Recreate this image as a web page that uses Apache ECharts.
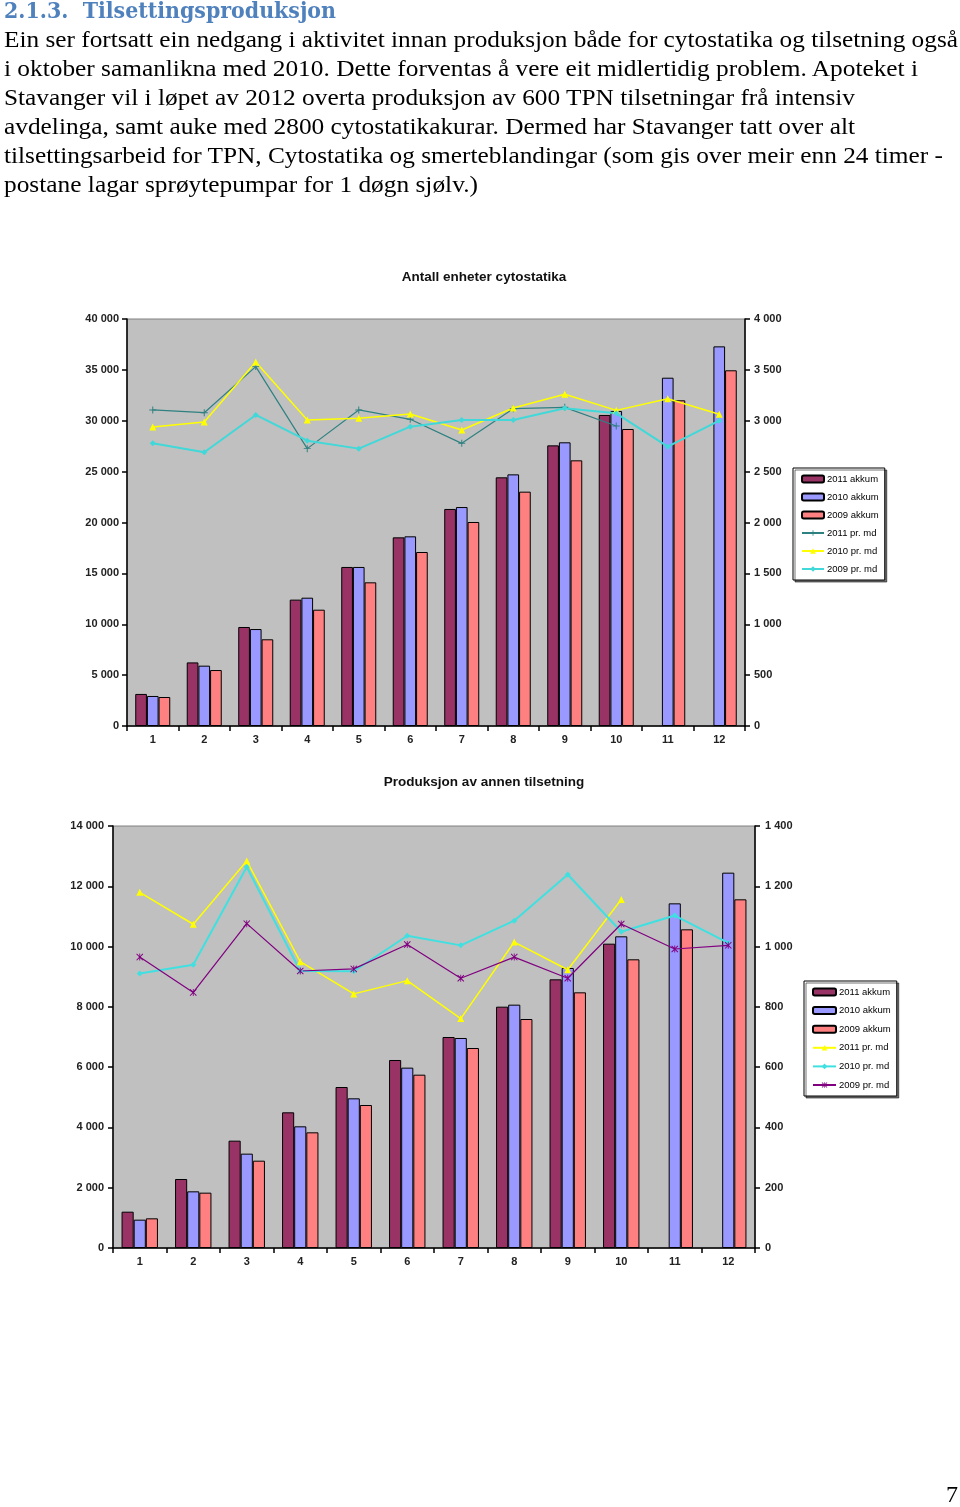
<!DOCTYPE html>
<html>
<head>
<meta charset="utf-8">
<script src="https://cdn.jsdelivr.net/npm/echarts/dist/echarts.min.js"></script>
<style>
  html, body { margin:0; padding:0; background:#fff; width:960px; height:1507px; overflow:hidden; }
  #chart { position:absolute; left:0; top:0; width:960px; height:1507px; }
  .ln { position:absolute; white-space:nowrap; transform-origin:0 0; display:inline-block; }
  .body { font-family:"Liberation Serif", "Times New Roman", serif; font-size:24px; line-height:29px; color:#000; }
  .head { font-family:"DejaVu Serif", serif; font-weight:bold; font-size:22px; line-height:23px; color:#4F81BD; }
</style>
</head>
<body>
<div id="chart"></div>
<div id="txt">
  <span class="ln head fit" data-w="332" style="left:4px;top:-1px">2.1.3.&nbsp; Tilsettingsproduksjon</span>
  <span class="ln body fit" data-w="954" style="left:4px;top:25px">Ein ser fortsatt ein nedgang i aktivitet innan produksjon både for cytostatika og tilsetning også</span>
  <span class="ln body fit" data-w="914" style="left:4px;top:54px">i oktober samanlikna med 2010. Dette forventas å vere eit midlertidig problem. Apoteket i</span>
  <span class="ln body fit" data-w="851" style="left:4px;top:83px">Stavanger vil i løpet av 2012 overta produksjon av 600 TPN tilsetningar frå intensiv</span>
  <span class="ln body fit" data-w="851" style="left:4px;top:112px">avdelinga, samt auke med 2800 cytostatikakurar. Dermed har Stavanger tatt over alt</span>
  <span class="ln body fit" data-w="939" style="left:4px;top:141px">tilsettingsarbeid for TPN, Cytostatika og smerteblandingar (som gis over meir enn 24 timer -</span>
  <span class="ln body fit" data-w="474" style="left:4px;top:170px">postane lagar sprøytepumpar for 1 døgn sjølv.)</span>
  <span class="ln body" style="left:946px;top:1480px">7</span>
</div>
<script>
// ---------- DATA ----------
const months = ['1','2','3','4','5','6','7','8','9','10','11','12'];

// Chart 1: Antall enheter cytostatika
const cyto2011Akkum = [3150, 6250, 9730, 12420, 15630, 18540, 21330, 24440, 27580, 30570];
const cyto2010Akkum = [2950, 5930, 9530, 12610, 15630, 18640, 21520, 24730, 27880, 30960, 34230, 37310];
const cyto2009Akkum = [2850, 5500, 8520, 11430, 14120, 17100, 20050, 23030, 26110, 29190, 32010, 34960];
const cyto2011Md = [3106, 3079, 3532, 2726, 3106, 3014, 2778, 3119, 3132, 2948];
const cyto2010Md = [2939, 2988, 3578, 3007, 3024, 3066, 2909, 3125, 3260, 3102, 3217, 3063];
const cyto2009Md = [2778, 2690, 3057, 2804, 2726, 2942, 3007, 3007, 3122, 3073, 2745, 3001];
const cytoLeftTicks = ['0','5 000','10 000','15 000','20 000','25 000','30 000','35 000','40 000'];
const cytoRightTicks = ['0','500','1 000','1 500','2 000','2 500','3 000','3 500','4 000'];

// Chart 2: Produksjon av annen tilsetning
const tils2011Akkum = [1205, 2289, 3561, 4501, 5341, 6237, 7000, 8006, 8913, 10096];
const tils2010Akkum = [940, 1880, 3130, 4036, 4965, 5983, 6967, 8073, 9289, 10340, 11434, 12452];
const tils2009Akkum = [984, 1836, 2897, 3837, 4744, 5750, 6635, 7597, 8482, 9577, 10572, 11567];
const tils2011Md = [1180, 1074, 1284, 950, 843, 887, 761, 1015, 923, 1156];
const tils2010Md = [911, 940, 1264, 919, 918, 1036, 1004, 1086, 1239, 1049, 1103, 1012];
const tils2009Md = [965, 848, 1076, 919, 926, 1007, 895, 965, 895, 1075, 992, 1004];
const tilsLeftTicks = ['0','2 000','4 000','6 000','8 000','10 000','12 000','14 000'];
const tilsRightTicks = ['0','200','400','600','800','1 000','1 200','1 400'];

// ---------- TEXT FIT ----------
document.querySelectorAll('.fit').forEach(el => {
  const w = el.getBoundingClientRect().width;
  el.style.transform = 'scaleX(' + (parseFloat(el.dataset.w) / w) + ')';
});

// ---------- CHART ----------
const FONT = '"Liberation Sans", Arial, sans-serif';
const C_2011 = '#993366', C_2010 = '#9999FF', C_2009 = '#FF8080';
const PLUS = 'path://M4.3,0H5.7V4.3H10V5.7H5.7V10H4.3V5.7H0V4.3H4.3Z';
const STAR = 'path://M0,1L1,0L5,4L9,0L10,1L6,5L10,9L9,10L5,6L1,10L0,9L4,5Z M4.4,0H5.6V10H4.4Z';

function tickFmt(arr, step) { return v => arr[Math.round(v / step)] ?? ''; }

function xAx(gi) {
  return {
    type: 'category', gridIndex: gi, data: months, boundaryGap: true,
    axisLine: { lineStyle: { color: '#000', width: 1.5 } },
    axisTick: { show: true, length: 5, lineStyle: { color: '#000', width: 1.5 } },
    axisLabel: { color: '#222', fontFamily: FONT, fontWeight: 'bold', fontSize: 11, margin: 8 },
    splitLine: { show: false }
  };
}
function yAx(gi, max, step, labels, pos, margin) {
  return {
    type: 'value', gridIndex: gi, position: pos, min: 0, max: max, interval: step,
    axisLine: { show: true, lineStyle: { color: '#000', width: 1.5 } },
    axisTick: { show: true, length: 5, lineStyle: { color: '#000', width: 1.5 } },
    axisLabel: { color: '#222', fontFamily: FONT, fontWeight: 'bold', fontSize: 11, margin: margin,
                 formatter: tickFmt(labels, step) },
    splitLine: { show: false }
  };
}
function bar(name, data, color, xi, yi) {
  return { name, type: 'bar', xAxisIndex: xi, yAxisIndex: yi, data,
    barGap: '0%', barCategoryGap: '32%',
    itemStyle: { color, borderColor: '#000', borderWidth: 1 } };
}
function line(name, data, color, width, symbol, size, xi, yi) {
  return { name, type: 'line', xAxisIndex: xi, yAxisIndex: yi, data,
    symbol, symbolSize: size, symbolKeepAspect: true,
    lineStyle: { color, width }, itemStyle: { color, borderColor: color, borderWidth: 0 },
    z: 5 };
}
function legend(left, top, names, gap, itemW) {
  return {
    orient: 'vertical', left, top, data: names, itemGap: gap, itemWidth: itemW, itemHeight: 7,
    backgroundColor: '#fff', borderColor: '#000', borderWidth: 1,
    shadowColor: 'rgba(0,0,0,0.55)', shadowOffsetX: 2, shadowOffsetY: 2, shadowBlur: 0,
    padding: [5, 6, 5, 8], selectedMode: false,
    formatter: n => n.replace(/^B:/, ''),
    textStyle: { fontFamily: FONT, fontSize: 9.5, color: '#000', lineHeight: 12, padding: [0, 0, 0, -2] }
  };
}

const chart = echarts.init(document.getElementById('chart'), null, { renderer: 'canvas' });
chart.setOption({
  animation: false,
  backgroundColor: 'transparent',
  graphic: [
    { type: 'text', x: 484, y: 277, style: { text: 'Antall enheter cytostatika', textAlign: 'center', textVerticalAlign: 'middle',
      font: 'bold 13.5px "Liberation Sans", Arial, sans-serif', fill: '#111' } },
    { type: 'text', x: 484, y: 782, style: { text: 'Produksjon av annen tilsetning', textAlign: 'center', textVerticalAlign: 'middle',
      font: 'bold 13.5px "Liberation Sans", Arial, sans-serif', fill: '#111' } }
  ],
  grid: [
    { left: 127, top: 319, width: 618, height: 407, show: true, backgroundColor: '#C0C0C0', borderColor: '#808080', borderWidth: 1 },
    { left: 113, top: 826, width: 642, height: 422, show: true, backgroundColor: '#C0C0C0', borderColor: '#808080', borderWidth: 1 }
  ],
  xAxis: [xAx(0), xAx(1)],
  yAxis: [
    yAx(0, 40000, 5000, cytoLeftTicks, 'left', 8),
    yAx(0, 4000, 500, cytoRightTicks, 'right', 9),
    yAx(1, 14000, 2000, tilsLeftTicks, 'left', 9),
    yAx(1, 1400, 200, tilsRightTicks, 'right', 10)
  ],
  legend: [
    legend(793, 468, ['2011 akkum','2010 akkum','2009 akkum','2011 pr. md','2010 pr. md','2009 pr. md'], 6, 22),
    legend(804, 981, ['B:2011 akkum','B:2010 akkum','B:2009 akkum','B:2011 pr. md','B:2010 pr. md','B:2009 pr. md'], 6.6, 23)
  ],
  series: [
    bar('2011 akkum', cyto2011Akkum, C_2011, 0, 0),
    bar('2010 akkum', cyto2010Akkum, C_2010, 0, 0),
    bar('2009 akkum', cyto2009Akkum, C_2009, 0, 0),
    line('2011 pr. md', cyto2011Md, '#2F8080', 1.2, PLUS, 7, 0, 1),
    line('2010 pr. md', cyto2010Md, '#FFFF00', 1.5, 'triangle', 7, 0, 1),
    line('2009 pr. md', cyto2009Md, '#40D8D8', 2, 'diamond', 6, 0, 1),

    bar('B:2011 akkum', tils2011Akkum, C_2011, 1, 2),
    bar('B:2010 akkum', tils2010Akkum, C_2010, 1, 2),
    bar('B:2009 akkum', tils2009Akkum, C_2009, 1, 2),
    line('B:2011 pr. md', tils2011Md, '#FFFF00', 1.5, 'triangle', 7, 1, 3),
    line('B:2010 pr. md', tils2010Md, '#40E0E0', 2, 'diamond', 6, 1, 3),
    line('B:2009 pr. md', tils2009Md, '#800080', 1.2, STAR, 7, 1, 3)
  ]
});
</script>
</body>
</html>
